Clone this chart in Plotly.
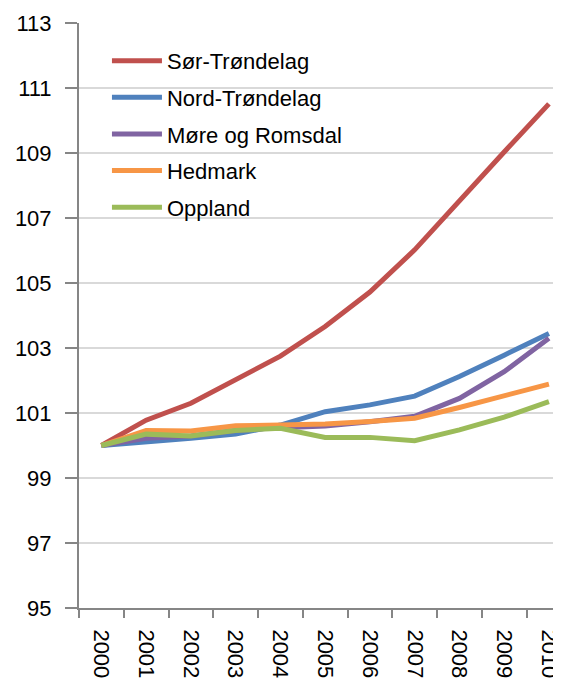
import plotly.graph_objects as go

years = ["2000", "2001", "2002", "2003", "2004", "2005", "2006", "2007", "2008", "2009", "2010"]
sor_trondelag = [100.0, 100.78, 101.30, 102.04, 102.75, 103.66, 104.72, 106.02, 107.55, 109.03, 110.51]
nord_trondelag = [100.0, 100.10, 100.22, 100.35, 100.63, 101.04, 101.25, 101.52, 102.12, 102.78, 103.45]
more_romsdal = [100.0, 100.22, 100.29, 100.46, 100.55, 100.60, 100.73, 100.90, 101.45, 102.27, 103.30]
hedmark = [100.0, 100.46, 100.45, 100.61, 100.63, 100.66, 100.74, 100.84, 101.17, 101.55, 101.89]
oppland = [100.0, 100.35, 100.29, 100.46, 100.53, 100.25, 100.25, 100.15, 100.48, 100.87, 101.35]

series = [
    ("Sør-Trøndelag", sor_trondelag, "#C0504D"),
    ("Nord-Trøndelag", nord_trondelag, "#4F81BD"),
    ("Møre og Romsdal", more_romsdal, "#8064A2"),
    ("Hedmark", hedmark, "#F79646"),
    ("Oppland", oppland, "#9BBB59"),
]

fig = go.Figure()
for i, (name, vals, color) in enumerate(series):
    fig.add_trace(go.Scatter(
        x=years, y=vals, name=name, mode="lines",
        line=dict(color=color, width=5),
        legendgroup=f"g{i}",
    ))

fig.update_layout(
    width=553, height=681,
    margin=dict(l=71, r=0, t=15, b=81),
    paper_bgcolor="white", plot_bgcolor="white",
    font=dict(family="Liberation Sans, Arial", size=21, color="black"),
    showlegend=True,
    legend=dict(
        x=0.058, y=0.971, xanchor="left", yanchor="top",
        bgcolor="rgba(0,0,0,0)", font=dict(size=22),
        traceorder="grouped", tracegroupgap=5,
        itemwidth=50,
    ),
    xaxis=dict(
        type="category", range=[-0.5, 10.27],
        showgrid=False, showline=True, linecolor="#868686", linewidth=2,
        ticks="outside", tickson="boundaries", ticklen=8, tickcolor="#868686", tickwidth=1.5,
        tickangle=90, tickfont=dict(size=22), ticklabelstandoff=15,
    ),
    yaxis=dict(
        range=[95, 113], tick0=95, dtick=2,
        showgrid=True, gridcolor="#D9D9D9", gridwidth=1.5,
        showline=True, linecolor="#868686", linewidth=2,
        ticks="outside", ticklen=12, tickcolor="#868686", tickwidth=1.5,
        tickfont=dict(size=22), zeroline=False, ticklabelstandoff=9,
    ),
)

fig.write_html("out.html")
